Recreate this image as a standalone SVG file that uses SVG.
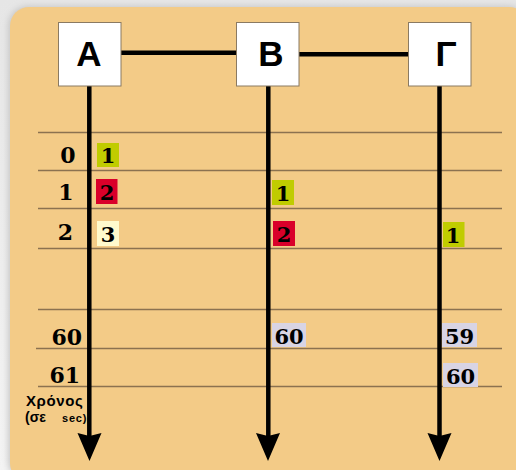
<svg xmlns="http://www.w3.org/2000/svg" width="516" height="470" viewBox="0 0 516 470">
<defs>
<linearGradient id="bg" x1="0" y1="0" x2="0" y2="1"><stop offset="0" stop-color="#e6e6e6"/><stop offset="1" stop-color="#f4f4f4"/></linearGradient>
<path id="ah" d="M-12,0 L0,3 L12,0 L0,28 Z" fill="#000"/>
<filter id="sh" x="-5%" y="-5%" width="110%" height="110%"><feGaussianBlur stdDeviation="3"/></filter>
</defs>
<style>
.node rect{fill:#fff;stroke:#8a7a62;stroke-width:1}
.node text{font-family:"Liberation Sans",Arial,sans-serif;font-weight:bold;font-size:35px;text-anchor:middle}
.grid line{stroke:#8b7250;stroke-width:1.5}
.lbl{font-family:"DejaVu Serif","Liberation Serif",serif;font-weight:bold;font-size:22px;fill:#000}
.tag text{font-family:"DejaVu Serif","Liberation Serif",serif;font-weight:bold;font-size:21px;fill:#000}
.conn line{stroke:#000;stroke-width:4.5}
.axis{font-family:"Liberation Sans",Arial,sans-serif;font-weight:bold;fill:#000}
</style>
<rect width="516" height="470" fill="url(#bg)"/>
<rect x="8" y="6" width="520" height="475" rx="20" fill="#c8c8c8" filter="url(#sh)"/>
<rect x="10" y="7" width="518" height="475" rx="19" fill="#f3cb87"/>
<g class="grid">
<line x1="38" y1="132.5" x2="502" y2="132.5"/>
<line x1="38" y1="170.5" x2="502" y2="170.5"/>
<line x1="38" y1="208.5" x2="502" y2="208.5"/>
<line x1="38" y1="248.5" x2="502" y2="248.5"/>
<line x1="38" y1="309.5" x2="502" y2="309.5"/>
<line x1="36" y1="348.5" x2="502" y2="348.5"/>
<line x1="38" y1="386.5" x2="502" y2="386.5"/>
</g>
<g class="conn">
<line x1="121" y1="52.7" x2="237" y2="52.7"/>
<line x1="299" y1="54.3" x2="409" y2="54.3"/>
<line x1="89.3" y1="86" x2="89.3" y2="440"/>
<line x1="268.3" y1="86" x2="268.3" y2="440"/>
<line x1="439.5" y1="86" x2="439.5" y2="440"/>
<use href="#ah" x="89.5" y="433"/>
<use href="#ah" x="268" y="433"/>
<use href="#ah" x="439.5" y="433"/>
</g>
<g id="nodeA" class="node"><rect x="58.5" y="22.5" width="62.5" height="63.5"/><text x="89" y="66">A</text></g>
<g id="nodeB" class="node"><rect x="236.5" y="22.5" width="62.5" height="63.5"/><text x="271" y="66">B</text></g>
<g id="nodeG" class="node"><rect x="408.5" y="22.5" width="62.5" height="63.5"/><text x="446" y="66">Γ</text></g>
<g id="labels">
<text class="lbl" x="68" y="163" text-anchor="middle">0</text>
<text class="lbl" x="66" y="200" text-anchor="middle">1</text>
<text class="lbl" x="65.5" y="240" text-anchor="middle">2</text>
<text class="lbl" x="82" y="345" text-anchor="end">60</text>
<text class="lbl" x="80" y="383" text-anchor="end">61</text>
<text class="axis" x="26" y="406" font-size="15" font-weight="600" letter-spacing="0.6">Χρόνος</text>
<text class="axis" x="25" y="422" font-size="14" font-weight="normal">(σε</text>
<text class="axis" x="62" y="422" font-size="11" font-weight="600" letter-spacing="0.8">sec)</text>
</g>
<g id="tags" class="tag">
<rect x="97" y="143" width="22" height="24" fill="#c0cc00"/><text x="108" y="163" text-anchor="middle">1</text>
<rect x="96" y="179" width="21.5" height="25" fill="#d9002a"/><text x="107" y="200" text-anchor="middle">2</text>
<rect x="97" y="221" width="22" height="25" fill="#fffacd"/><text x="108" y="242" text-anchor="middle">3</text>
<rect x="272" y="180" width="22" height="25" fill="#c0cc00"/><text x="283" y="201" text-anchor="middle">1</text>
<rect x="273" y="221" width="22" height="25" fill="#d9002a"/><text x="284" y="242" text-anchor="middle">2</text>
<rect x="443" y="222" width="21.5" height="25" fill="#c0cc00"/><text x="453" y="243" text-anchor="middle">1</text>
<rect x="272" y="323" width="34" height="24" fill="#d8d4e4"/><text x="289" y="344" text-anchor="middle">60</text>
<rect x="442" y="323" width="35" height="24" fill="#d8d4e4"/><text x="459.5" y="344" text-anchor="middle">59</text>
<rect x="443" y="363" width="35" height="24" fill="#d8d4e4"/><text x="460.5" y="384" text-anchor="middle">60</text>
</g>
</svg>
